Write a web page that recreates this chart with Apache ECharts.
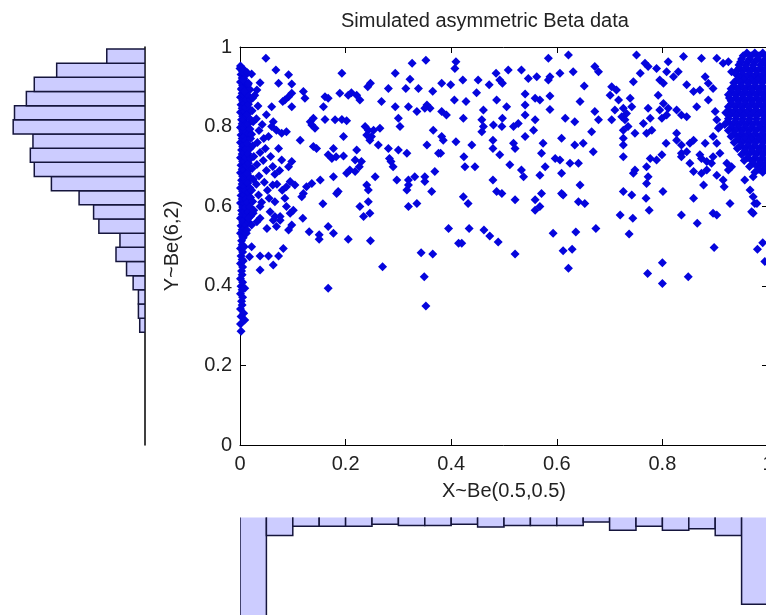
<!DOCTYPE html>
<html>
<head>
<meta charset="utf-8">
<script src="https://cdn.jsdelivr.net/npm/echarts@6/dist/echarts.min.js"></script>
<style>
html, body { margin: 0; padding: 0; background: #fff; }
#chart { width: 766px; height: 615px; }
</style>
</head>
<body>
<div id="chart"></div>
<script>
// 标题 / 轴名
var titleText = 'Simulated asymmetric Beta data';
var xName = 'X~Be(0.5,0.5)';
var yName = 'Y~Be(6,2)';

// Y 直方图 (由下往上, 20 bins, 0.283 .. 0.995)
var yBinMin = 0.283, yBinMax = 0.995;
var yCounts = [4, 5, 5, 9, 14, 22, 19, 35, 39, 50, 71, 84, 87, 85, 100, 99, 90, 84, 67, 29];

// X 直方图 (由左往右, 20 bins, 0 .. 1)
var xBinMin = 0, xBinMax = 1;
var xCounts = [330, 45, 22, 22, 22, 17, 20, 20, 17, 24, 20, 20, 20, 11, 32, 22, 32, 28, 45, 217];

// 散点: x≈0 附近的密集带
var leftCluster = [
  [0.001,0.952],[0.002,0.931],[0.001,0.912],[0.003,0.893],[0.001,0.874],[0.002,0.855],[0.001,0.836],[0.003,0.817],
  [0.001,0.798],[0.002,0.779],[0.001,0.760],[0.003,0.741],[0.001,0.722],[0.002,0.703],[0.001,0.684],[0.003,0.665],
  [0.001,0.646],[0.002,0.627],[0.001,0.608],[0.003,0.589],[0.001,0.570],[0.002,0.551],[0.001,0.532],[0.003,0.513],
  [0.001,0.494],[0.002,0.475],[0.001,0.456],[0.003,0.437],[0.001,0.418],[0.002,0.399],[0.001,0.380],[0.003,0.361],
  [0.001,0.342],[0.002,0.323],[0.001,0.304],[0.002,0.286],
  [0.004,0.943],[0.004,0.922],[0.005,0.903],[0.004,0.884],[0.005,0.865],[0.004,0.846],[0.005,0.826],[0.004,0.807],
  [0.005,0.789],[0.004,0.770],[0.005,0.750],[0.004,0.731],[0.005,0.712],[0.004,0.693],[0.005,0.675],[0.004,0.656],
  [0.005,0.637],[0.004,0.618],[0.005,0.598],[0.004,0.580],[0.005,0.560],[0.004,0.541],[0.005,0.523],[0.004,0.503],
  [0.005,0.485],[0.004,0.466],[0.005,0.447],[0.004,0.428],[0.005,0.409],[0.004,0.390],[0.005,0.371],[0.004,0.352],
  [0.008,0.942],[0.007,0.921],[0.009,0.900],[0.007,0.879],[0.008,0.858],[0.009,0.838],[0.007,0.817],[0.008,0.796],
  [0.009,0.775],[0.007,0.754],[0.008,0.733],[0.009,0.712],[0.007,0.691],[0.008,0.670],[0.009,0.649],[0.007,0.628],
  [0.008,0.607],[0.009,0.586],[0.007,0.565],[0.008,0.544],[0.006,0.521],[0.008,0.498],[0.006,0.462],[0.009,0.394],
  [0.007,0.331],[0.009,0.314],
  [0.011,0.930],[0.012,0.910],[0.011,0.890],[0.012,0.868],[0.011,0.848],[0.012,0.827],[0.011,0.806],[0.012,0.786],
  [0.011,0.765],[0.012,0.744],[0.011,0.722],[0.012,0.702],[0.011,0.680],[0.012,0.660],[0.011,0.639],[0.012,0.618],
  [0.011,0.597],[0.012,0.575],[0.011,0.553],[0.012,0.532],
  [0.015,0.905],[0.014,0.880],[0.016,0.856],[0.014,0.831],[0.015,0.806],[0.016,0.782],[0.014,0.757],[0.015,0.732],
  [0.016,0.708],[0.014,0.683],[0.015,0.658],[0.016,0.634],[0.014,0.609],[0.015,0.585],[0.016,0.560],
  [0.019,0.893],[0.020,0.868],[0.019,0.843],[0.020,0.818],[0.019,0.794],[0.020,0.770],[0.019,0.745],[0.020,0.720],
  [0.019,0.695],[0.020,0.671],[0.019,0.646],[0.020,0.622],[0.019,0.598],[0.020,0.575],
  [0.024,0.872],[0.023,0.840],[0.025,0.812],[0.022,0.781],[0.024,0.752],[0.026,0.725],[0.023,0.695],[0.025,0.668],
  [0.022,0.640],[0.024,0.612],[0.026,0.590],
  [0.034,0.852],[0.031,0.820],[0.036,0.790],[0.033,0.760],[0.038,0.735],[0.032,0.705],[0.036,0.676],[0.031,0.655],
  [0.035,0.628],[0.042,0.805],[0.045,0.770],[0.048,0.745],[0.044,0.715],[0.050,0.690],[0.046,0.660],[0.052,0.640],
  [0.041,0.610],[0.055,0.620],[0.058,0.725],[0.062,0.700],[0.066,0.680],[0.054,0.775],[0.070,0.655],[0.075,0.690],
  [0.080,0.640],[0.085,0.620],[0.060,0.850],[0.050,0.830],
  [0.000,0.946],[0.005,0.938],[0.014,0.935],[0.022,0.932],[0.006,0.917],[0.016,0.909],[0.003,0.896],[0.009,0.888]
];

// 散点: 中间稀疏区域
var midPoints = [
  [0.049,0.972],[0.068,0.942],[0.092,0.930],[0.038,0.910],[0.073,0.909],[0.098,0.907],[0.193,0.934],[0.247,0.909],
  [0.242,0.900],[0.211,0.885],[0.205,0.879],[0.221,0.879],[0.227,0.867],[0.189,0.884],[0.161,0.875],[0.167,0.871],
  [0.120,0.888],[0.123,0.871],[0.098,0.884],[0.092,0.875],[0.085,0.867],[0.081,0.863],[0.032,0.892],[0.028,0.879],
  [0.098,0.850],[0.158,0.850],[0.268,0.863],[0.281,0.896],[0.294,0.934],[0.314,0.896],[0.326,0.959],[0.352,0.967],
  [0.322,0.919],[0.338,0.896],[0.365,0.889],[0.382,0.909],[0.399,0.905],[0.409,0.963],[0.407,0.946],[0.294,0.850],
  [0.300,0.821],[0.319,0.850],[0.335,0.838],[0.354,0.854],[0.360,0.846],[0.350,0.846],[0.382,0.838],[0.391,0.829],
  [0.406,0.867],[0.303,0.800],[0.139,0.821],[0.133,0.812],[0.136,0.804],[0.142,0.796],[0.161,0.818],[0.180,0.817],
  [0.193,0.818],[0.202,0.815],[0.063,0.812],[0.060,0.800],[0.069,0.791],[0.079,0.783],[0.088,0.787],[0.237,0.800],
  [0.243,0.791],[0.253,0.791],[0.265,0.796],[0.240,0.779],[0.249,0.775],[0.246,0.766],[0.196,0.775],[0.114,0.766],
  [0.139,0.750],[0.145,0.745],[0.177,0.745],[0.167,0.729],[0.174,0.720],[0.196,0.726],[0.182,0.724],[0.221,0.741],
  [0.218,0.716],[0.230,0.712],[0.226,0.699],[0.262,0.754],[0.281,0.745],[0.300,0.741],[0.316,0.733],[0.354,0.754],
  [0.382,0.775],[0.385,0.766],[0.366,0.791],[0.380,0.733],[0.409,0.762],[0.283,0.720],[0.286,0.712],[0.290,0.699],
  [0.208,0.691],[0.202,0.683],[0.218,0.687],[0.177,0.674],[0.152,0.666],[0.136,0.657],[0.126,0.649],[0.120,0.632],
  [0.117,0.624],[0.104,0.653],[0.095,0.662],[0.088,0.649],[0.256,0.674],[0.240,0.653],[0.243,0.641],[0.297,0.666],
  [0.319,0.666],[0.319,0.653],[0.331,0.674],[0.350,0.674],[0.350,0.662],[0.316,0.641],[0.363,0.637],[0.376,0.733],
  [0.369,0.687],[0.186,0.637],[0.183,0.632],[0.243,0.611],[0.227,0.599],[0.234,0.574],[0.246,0.582],[0.157,0.606],
  [0.319,0.599],[0.335,0.607],[0.062,0.653],[0.066,0.611],[0.057,0.586],[0.076,0.574],[0.092,0.699],[0.098,0.712],
  [0.079,0.716],[0.073,0.745],
  // 下部 (x 0 .. 0.42)
  [0.167,0.549],[0.177,0.532],[0.150,0.528],[0.150,0.517],[0.131,0.536],[0.205,0.517],[0.247,0.513],[0.119,0.570],
  [0.082,0.494],[0.073,0.475],[0.054,0.475],[0.063,0.452],[0.038,0.440],[0.038,0.475],[0.018,0.473],[0.022,0.498],
  [0.167,0.394],[0.270,0.448],[0.343,0.483],[0.365,0.480],[0.349,0.423],[0.352,0.349],[0.395,0.544],[0.414,0.507],
  [0.066,0.574],[0.076,0.565],[0.088,0.599],[0.095,0.582],[0.101,0.590],[0.098,0.553],[0.092,0.540],[0.063,0.565],
  [0.069,0.549],[0.038,0.570],[0.051,0.544],[0.032,0.561],[0.025,0.582],[0.038,0.599],[0.022,0.553],[0.016,0.570],
  [0.013,0.540],
  // 右上 (x 0.42 .. 0.93)
  [0.584,0.972],[0.622,0.980],[0.422,0.917],[0.451,0.917],[0.448,0.885],[0.472,0.905],[0.485,0.934],[0.492,0.917],
  [0.497,0.909],[0.508,0.942],[0.533,0.942],[0.546,0.921],[0.562,0.925],[0.584,0.917],[0.587,0.925],[0.606,0.934],
  [0.631,0.938],[0.672,0.951],[0.679,0.938],[0.652,0.902],[0.644,0.863],[0.428,0.863],[0.486,0.867],[0.540,0.882],
  [0.559,0.871],[0.568,0.867],[0.587,0.877],[0.587,0.843],[0.540,0.854],[0.505,0.850],[0.461,0.842],[0.423,0.821],
  [0.458,0.817],[0.461,0.800],[0.458,0.787],[0.480,0.804],[0.497,0.821],[0.496,0.800],[0.518,0.800],[0.527,0.808],
  [0.540,0.829],[0.559,0.817],[0.556,0.791],[0.540,0.775],[0.518,0.758],[0.521,0.745],[0.479,0.766],[0.479,0.745],
  [0.439,0.754],[0.492,0.729],[0.424,0.724],[0.426,0.699],[0.445,0.699],[0.479,0.666],[0.486,0.637],[0.496,0.632],
  [0.511,0.704],[0.533,0.691],[0.537,0.674],[0.568,0.678],[0.574,0.758],[0.571,0.733],[0.578,0.699],[0.597,0.720],
  [0.606,0.716],[0.609,0.771],[0.609,0.683],[0.625,0.708],[0.641,0.708],[0.634,0.754],[0.650,0.758],[0.616,0.821],
  [0.634,0.812],[0.644,0.653],[0.669,0.737],[0.666,0.787],[0.672,0.838],[0.679,0.817],[0.641,0.611],[0.653,0.607],
  [0.609,0.632],[0.612,0.628],[0.571,0.632],[0.559,0.616],[0.559,0.590],[0.568,0.599],[0.521,0.616],[0.432,0.607],
  [0.423,0.624],[0.726,0.637],[0.742,0.628],[0.720,0.578],[0.744,0.570],[0.775,0.590],[0.769,0.620],[0.801,0.637],
  [0.836,0.578],[0.866,0.557],[0.859,0.620],[0.896,0.582],[0.903,0.578],[0.917,0.649],[0.928,0.607],[0.956,0.666],
  [0.972,0.674],
  [0.704,0.900],[0.701,0.879],[0.713,0.892],[0.717,0.867],[0.726,0.846],[0.732,0.833],[0.723,0.825],[0.739,0.871],
  [0.745,0.913],[0.751,0.980],[0.758,0.934],[0.767,0.959],[0.773,0.951],[0.789,0.946],[0.795,0.917],[0.802,0.909],
  [0.792,0.879],[0.808,0.938],[0.811,0.963],[0.821,0.925],[0.830,0.938],[0.840,0.976],[0.846,0.905],[0.874,0.972],
  [0.881,0.925],[0.887,0.909],[0.903,0.972],[0.915,0.959],[0.871,0.892],[0.887,0.867],[0.865,0.850],[0.900,0.838],
  [0.903,0.817],[0.909,0.800],[0.925,0.963],[0.931,0.938],[0.896,0.896],[0.859,0.888],
  [0.704,0.817],[0.710,0.842],[0.729,0.817],[0.742,0.850],[0.735,0.800],[0.726,0.791],[0.726,0.771],[0.726,0.754],
  [0.748,0.783],[0.773,0.846],[0.777,0.821],[0.764,0.808],[0.780,0.791],[0.770,0.783],[0.795,0.842],[0.799,0.821],
  [0.802,0.858],[0.811,0.846],[0.808,0.829],[0.827,0.842],[0.836,0.829],[0.846,0.825],[0.827,0.783],[0.836,0.754],
  [0.852,0.758],[0.859,0.766],[0.846,0.737],[0.836,0.733],[0.836,0.724],[0.852,0.708],[0.871,0.729],[0.874,0.720],
  [0.884,0.712],[0.893,0.708],[0.896,0.724],[0.909,0.733],[0.881,0.758],[0.896,0.775],[0.906,0.796],[0.903,0.758],
  [0.789,0.716],[0.777,0.720],[0.770,0.699],[0.773,0.674],[0.770,0.657],[0.748,0.691],[0.726,0.724],[0.745,0.683],
  [0.799,0.729],[0.807,0.758],[0.827,0.766],[0.859,0.687],[0.874,0.683],[0.884,0.691],[0.903,0.678],[0.915,0.666],
  [0.922,0.708],[0.925,0.691],
  // 下部 (x 0.42 .. 1)
  [0.434,0.544],[0.420,0.507],[0.462,0.540],[0.473,0.525],[0.489,0.510],[0.521,0.480],[0.593,0.532],[0.612,0.488],
  [0.629,0.492],[0.622,0.444],[0.636,0.535],[0.674,0.544],[0.737,0.530],[0.772,0.431],[0.800,0.458],[0.800,0.406],
  [0.849,0.423],[0.898,0.496],[0.980,0.492],[0.990,0.508],[0.994,0.461],[0.975,0.607],[0.972,0.582],
  [0.969,0.586],[0.979,0.607],[0.878,0.653],[0.931,0.699],[0.966,0.641],[0.972,0.624]
];

// 散点: x≈1 附近的密集区域
var rightCluster = [
  [0.960,0.985],[0.975,0.985],[0.990,0.985],
  [0.953,0.978],[0.968,0.978],[0.983,0.978],[0.997,0.978],
  [0.950,0.970],[0.965,0.970],[0.980,0.970],[0.995,0.970],
  [0.948,0.962],[0.961,0.962],[0.975,0.962],[0.990,0.962],
  [0.945,0.955],[0.958,0.955],[0.972,0.955],[0.986,0.955],[0.999,0.955],
  [0.946,0.948],[0.959,0.948],[0.972,0.948],[0.986,0.948],[0.998,0.948],
  [0.940,0.940],[0.952,0.940],[0.966,0.940],[0.979,0.940],[0.992,0.940],
  [0.939,0.932],[0.951,0.932],[0.964,0.932],[0.978,0.932],[0.991,0.932],
  [0.945,0.925],[0.958,0.925],[0.971,0.925],[0.985,0.925],[0.998,0.925],
  [0.941,0.918],[0.954,0.918],[0.968,0.918],[0.981,0.918],[0.994,0.918],
  [0.935,0.910],[0.948,0.910],[0.962,0.910],[0.975,0.910],[0.989,0.910],
  [0.936,0.902],[0.950,0.902],[0.963,0.902],[0.976,0.902],[0.989,0.902],
  [0.930,0.895],[0.943,0.895],[0.956,0.895],[0.969,0.895],[0.982,0.895],[0.996,0.895],
  [0.931,0.888],[0.944,0.888],[0.957,0.888],[0.970,0.888],[0.984,0.888],[0.997,0.888],
  [0.925,0.880],[0.938,0.880],[0.951,0.880],[0.964,0.880],[0.977,0.880],[0.990,0.880],
  [0.927,0.872],[0.940,0.872],[0.953,0.872],[0.966,0.872],[0.979,0.872],[0.993,0.872],
  [0.930,0.865],[0.944,0.865],[0.957,0.865],[0.970,0.865],[0.984,0.865],[0.997,0.865],
  [0.931,0.858],[0.944,0.858],[0.957,0.858],[0.970,0.858],[0.983,0.858],[0.996,0.858],
  [0.925,0.850],[0.938,0.850],[0.950,0.850],[0.963,0.850],[0.976,0.850],[0.990,0.850],
  [0.926,0.842],[0.939,0.842],[0.952,0.842],[0.965,0.842],[0.978,0.842],[0.992,0.842],
  [0.920,0.835],[0.933,0.835],[0.946,0.835],[0.959,0.835],[0.972,0.835],[0.985,0.835],[0.998,0.835],
  [0.927,0.828],[0.940,0.828],[0.953,0.828],[0.966,0.828],[0.979,0.828],[0.993,0.828],
  [0.925,0.820],[0.939,0.820],[0.952,0.820],[0.965,0.820],[0.978,0.820],[0.992,0.820],
  [0.924,0.812],[0.938,0.812],[0.951,0.812],[0.964,0.812],[0.978,0.812],[0.991,0.812],
  [0.918,0.805],[0.932,0.805],[0.945,0.805],[0.958,0.805],[0.971,0.805],[0.985,0.805],[0.998,0.805],
  [0.931,0.798],[0.944,0.798],[0.957,0.798],[0.970,0.798],[0.984,0.798],[0.997,0.798],
  [0.925,0.790],[0.938,0.790],[0.951,0.790],[0.964,0.790],[0.977,0.790],[0.991,0.790],
  [0.936,0.782],[0.950,0.782],[0.963,0.782],[0.976,0.782],[0.990,0.782],
  [0.930,0.775],[0.944,0.775],[0.957,0.775],[0.970,0.775],[0.984,0.775],[0.997,0.775],
  [0.943,0.768],[0.956,0.768],[0.969,0.768],[0.982,0.768],[0.995,0.768],
  [0.936,0.760],[0.950,0.760],[0.963,0.760],[0.976,0.760],[0.990,0.760],
  [0.948,0.752],[0.962,0.752],[0.975,0.752],[0.989,0.752],
  [0.942,0.745],[0.956,0.745],[0.969,0.745],[0.983,0.745],[0.996,0.745],
  [0.956,0.738],[0.970,0.738],[0.983,0.738],[0.996,0.738],
  [0.950,0.730],[0.963,0.730],[0.977,0.730],[0.990,0.730],
  [0.962,0.722],[0.976,0.722],[0.990,0.722],
  [0.955,0.715],[0.970,0.715],[0.984,0.715],[0.997,0.715],
  [0.972,0.708],[0.986,0.708],[0.998,0.708],
  [0.965,0.700],[0.980,0.700],[0.993,0.700],
  [0.983,0.692],[0.996,0.692],
  [0.975,0.685],[0.990,0.685]
];

var FONT = '"Liberation Sans", Arial, sans-serif';
var BLUE = '#0505dd';
var BAR_FILL = '#ccccff';
var BAR_EDGE = '#15153c';

// 直方图数据 [lo, hi, count]
function binData(counts, lo, hi) {
  var w = (hi - lo) / counts.length;
  return counts.map(function (c, i) { return [lo + i * w, lo + (i + 1) * w, c]; });
}

// 画直方图的矩形
function histRect(a, b) {
  return {
    type: 'rect',
    shape: { x: Math.min(a[0], b[0]), y: Math.min(a[1], b[1]), width: Math.abs(a[0] - b[0]), height: Math.abs(a[1] - b[1]) },
    style: { fill: BAR_FILL, stroke: BAR_EDGE, lineWidth: 1.5 }
  };
}

var mirrorTick = { show: true, inside: true, length: 6, lineStyle: { color: '#000' } };
var blackLine = { show: true, onZero: false, lineStyle: { color: '#000', width: 1 } };

var option = {
  animation: false,
  backgroundColor: '#fff',
  textStyle: { fontFamily: FONT },
  title: {
    text: titleText,
    left: 341,
    top: 11,
    padding: 0,
    textStyle: { fontFamily: FONT, fontSize: 20, fontWeight: 'normal', color: '#222' }
  },
  grid: [
    { left: 240, top: 47, width: 528, height: 398, outerBoundsMode: 'none', containLabel: false },   // 散点
    { left: 0, top: 47, width: 145, height: 398, outerBoundsMode: 'none', containLabel: false },     // Y 直方图
    { left: 240, top: 517.5, width: 528, height: 200, outerBoundsMode: 'none', containLabel: false } // X 直方图
  ],
  xAxis: [
    {
      gridIndex: 0, type: 'value', min: 0, max: 1, interval: 0.2, position: 'bottom',
      axisLine: blackLine, axisTick: mirrorTick,
      axisLabel: { fontSize: 20, color: '#222', margin: 9, fontFamily: FONT },
      splitLine: { show: false },
      name: xName, nameLocation: 'middle', nameGap: 36,
      nameTextStyle: { fontSize: 20, color: '#222', fontFamily: FONT }
    },
    {
      gridIndex: 0, type: 'value', min: 0, max: 1, interval: 0.2, position: 'top',
      axisLine: blackLine, axisTick: mirrorTick,
      axisLabel: { show: false }, splitLine: { show: false }
    },
    { gridIndex: 1, type: 'value', min: 0, max: 110, inverse: true, show: false },
    { gridIndex: 2, type: 'value', min: 0, max: 1, show: false }
  ],
  yAxis: [
    {
      gridIndex: 0, type: 'value', min: 0, max: 1, interval: 0.2, position: 'left',
      axisLine: blackLine, axisTick: mirrorTick,
      axisLabel: { fontSize: 20, color: '#222', margin: 8, fontFamily: FONT },
      splitLine: { show: false },
      name: yName, nameLocation: 'middle', nameGap: 58,
      nameTextStyle: { fontSize: 20, color: '#222', fontFamily: FONT }
    },
    {
      gridIndex: 0, type: 'value', min: 0, max: 1, interval: 0.2, position: 'right',
      axisLine: blackLine, axisTick: mirrorTick,
      axisLabel: { show: false }, splitLine: { show: false }
    },
    {
      gridIndex: 1, type: 'value', min: 0, max: 1, position: 'right',
      axisLine: { show: true, onZero: false, lineStyle: { color: '#000', width: 1.5 } },
      axisTick: { show: false }, axisLabel: { show: false }, splitLine: { show: false }
    },
    { gridIndex: 2, type: 'value', min: 0, max: 500, inverse: true, show: false }
  ],
  series: [
    {
      type: 'custom', xAxisIndex: 2, yAxisIndex: 2, clip: true,
      data: binData(yCounts, yBinMin, yBinMax),
      renderItem: function (params, api) {
        return histRect(api.coord([0, api.value(0)]), api.coord([api.value(2), api.value(1)]));
      }
    },
    {
      type: 'custom', xAxisIndex: 3, yAxisIndex: 3, clip: true,
      data: binData(xCounts, xBinMin, xBinMax),
      renderItem: function (params, api) {
        return histRect(api.coord([api.value(0), -10]), api.coord([api.value(1), api.value(2)]));
      }
    }
  ].concat([leftCluster, midPoints, rightCluster].map(function (pts) {
    return {
      type: 'scatter', xAxisIndex: 0, yAxisIndex: 0,
      symbol: 'diamond', symbolSize: 9,
      itemStyle: { color: BLUE, opacity: 1 },
      data: pts
    };
  }))
};

var chart = echarts.init(document.getElementById('chart'));
chart.setOption(option);
</script>
</body>
</html>
